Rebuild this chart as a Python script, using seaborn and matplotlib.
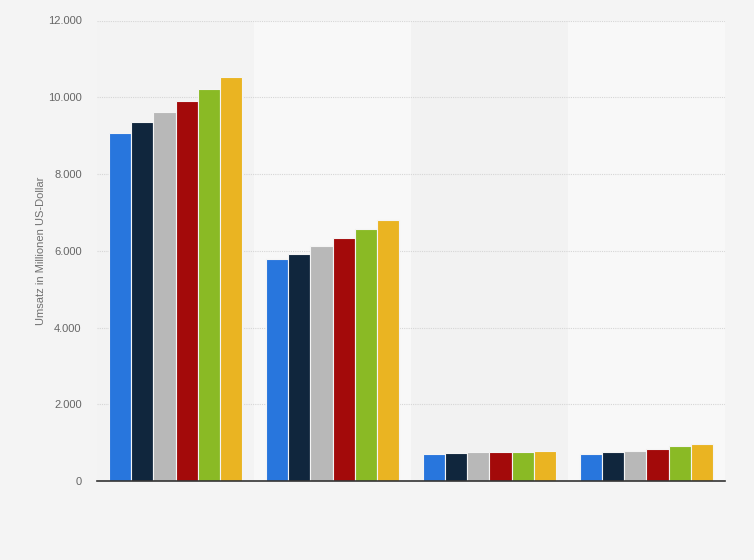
import matplotlib
matplotlib.use("Agg")
import matplotlib.pyplot as plt
import matplotlib.ticker as mticker
import seaborn as sns
import pandas as pd

# Data (million US$)
categories = ["Gruppe 1", "Gruppe 2", "Gruppe 3", "Gruppe 4"]
series = ["2017", "2018", "2019", "2020", "2021", "2022"]
values_2017 = [9060, 5777, 695, 695]
values_2018 = [9346, 5907, 721, 747]
values_2019 = [9607, 6116, 747, 790]
values_2020 = [9902, 6324, 752, 843]
values_2021 = [10215, 6559, 760, 903]
values_2022 = [10528, 6793, 790, 955]

colors = ["#2876dd", "#10263d", "#b8b8b8", "#a30a0a", "#8aba25", "#eab422"]

all_values = [values_2017, values_2018, values_2019, values_2020, values_2021, values_2022]
rows = []
for s, vals in zip(series, all_values):
    for c, v in zip(categories, vals):
        rows.append({"Kategorie": c, "Jahr": s, "Umsatz": v})
df = pd.DataFrame(rows)

sns.set_style("white")
plt.rcParams["font.family"] = ["Liberation Sans", "DejaVu Sans"]

fig = plt.figure(figsize=(7.54, 5.6), dpi=100)
fig.patch.set_facecolor("#f4f4f4")
ax = fig.add_axes([97 / 754, 79 / 560, 628 / 754, 460.5 / 560])
ax.set_facecolor("#f4f4f4")

# alternating background bands
band_colors = ["#f3f3f3", "#f8f8f8", "#f2f2f2", "#f8f8f8"]
for i, bc in enumerate(band_colors):
    ax.axvspan(i - 0.5, i + 0.5, color=bc, zorder=0, lw=0)

sns.barplot(data=df, x="Kategorie", y="Umsatz", hue="Jahr", palette=colors,
            saturation=1, width=0.85, edgecolor="#f4f4f4", linewidth=0.8,
            ax=ax, legend=False, zorder=3)

ax.set_xlim(-0.5, len(categories) - 0.5)
ax.set_ylim(0, 12000)
ax.yaxis.set_major_locator(mticker.MultipleLocator(2000))
ax.yaxis.set_major_formatter(mticker.FuncFormatter(lambda v, p: f"{int(v):,}".replace(",", ".")))
ax.grid(axis="y", color="#d6d6d6", linestyle=(0, (1, 1)), linewidth=0.8, zorder=1)
ax.set_axisbelow(True)

for side in ["top", "right", "left"]:
    ax.spines[side].set_visible(False)
ax.spines["bottom"].set_color("#333333")
ax.spines["bottom"].set_linewidth(1.2)
ax.spines["bottom"].set_zorder(5)

ax.set_xticks([])
ax.set_xlabel("")
ax.tick_params(axis="y", length=0, labelsize=8, labelcolor="#666666", pad=11)
ax.set_ylabel("Umsatz in Millionen US-Dollar", fontsize=8, color="#707070", labelpad=1)

fig.savefig("out.png", dpi=100, facecolor=fig.get_facecolor())
